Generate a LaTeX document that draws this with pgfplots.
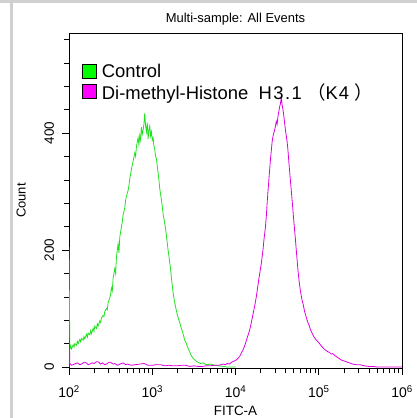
\documentclass[border=0pt]{standalone}
\usepackage{pgfplots}
\pgfplotsset{compat=1.18}
\usepackage{fontspec}
\setmainfont{Liberation Sans}
\newfontfamily\cjk{Noto Sans CJK SC}
\definecolor{ctrl}{HTML}{22E022}
\definecolor{mag}{HTML}{DD00DD}
\definecolor{lgreen}{HTML}{00FF00}
\definecolor{lmag}{HTML}{FF00FF}
\definecolor{frame}{HTML}{D0D0D0}
\begin{document}
\begin{tikzpicture}[x=1bp,y=1bp]
\useasboundingbox (0,0) rectangle (417,418);
\fill[frame] (0,415) rectangle (417,418);
\fill[frame] (10,0) rectangle (12.5,415);
\begin{axis}[
  scale only axis, width=333bp, height=335bp,
  at={(69bp,50bp)}, anchor=south west,
  xmin=2, xmax=6, ymin=-1.7, ymax=571,
  /pgf/number format/assume math mode=true,
  axis line style={black, line width=0.9pt},
  tick style={black, line width=0.7pt},
  tick align=outside,
  xtick pos=bottom, ytick pos=left,
  xtick={2,3,4,5,6},
  xticklabels={10\textsuperscript{2},10\textsuperscript{3},10\textsuperscript{4},10\textsuperscript{5},10\textsuperscript{6}},
  minor xtick={2.301,2.477,2.602,2.699,2.778,2.845,2.903,2.954,
    3.301,3.477,3.602,3.699,3.778,3.845,3.903,3.954,
    4.301,4.477,4.602,4.699,4.778,4.845,4.903,4.954,
    5.301,5.477,5.602,5.699,5.778,5.845,5.903,5.954},
  ytick={0,200,400},
  minor ytick={40,80,120,160,240,280,320,360,440,480,520,560},
  major tick length=7bp, minor tick length=5bp,
  every minor tick/.append style={line width=0.6pt},
  yticklabel style={rotate=90, anchor=south, font=\fontsize{13.5}{15}\selectfont},
  yticklabel shift=4.5bp,
  xticklabel style={font=\fontsize{14}{16}\selectfont},
  xticklabel shift=7bp,
  ylabel={Count}, ylabel style={font=\fontsize{13}{15}\selectfont, at={(-0.144,0.5)}, anchor=center},
  xlabel={FITC-A}, xlabel style={font=\fontsize{13.5}{15}\selectfont, at={(0.5,-0.127)}, anchor=center},
  title={Multi-sample: All Events},
  title style={font=\fontsize{13}{15}\selectfont, at={(0.5,1)}, anchor=center, yshift=8bp},
  legend style={draw=none, fill=none, at={(0.039,0.912)}, anchor=north west,
    font=\fontsize{18.5}{20}\selectfont, row sep=1.5bp, inner sep=0pt,
    legend cell align=left, nodes={inner xsep=5bp, inner ysep=1.5bp}},
  clip=true,
]
\addplot[ctrl, line width=0.8pt,
  legend image code/.code={\draw[fill=lgreen, draw=black, line width=0.7pt] (0bp,-6.5bp) rectangle (14bp,7.5bp);}]
coordinates {
(2.00,0)(2.00,205)(2.01,30)(2.02,36)(2.03,31)(2.05,38)(2.06,34)(2.07,40)(2.09,37)(2.10,44)(2.11,40)(2.13,47)
(2.14,43)(2.15,49)(2.17,46)(2.18,52)(2.19,48)(2.21,56)(2.22,51)(2.23,58)(2.25,55)(2.26,62)(2.27,57)(2.29,66)
(2.30,61)(2.31,70)(2.33,66)(2.34,74)(2.35,70)(2.37,79)(2.38,76)(2.39,84)(2.41,88)(2.42,86)(2.43,95)(2.45,100)
(2.46,98)(2.47,110)(2.49,118)(2.50,125)(2.51,135)(2.52,130)(2.53,152)(2.55,168)(2.56,160)(2.57,188)(2.58,200)(2.59,210)
(2.60,195)(2.61,222)(2.63,240)(2.64,248)(2.65,260)(2.67,272)(2.68,285)(2.69,292)(2.71,302)(2.72,310)(2.73,322)(2.75,338)
(2.76,345)(2.77,352)(2.79,366)(2.80,360)(2.81,376)(2.82,385)(2.83,392)(2.84,380)(2.85,396)(2.86,388)(2.87,410)(2.88,398)
(2.89,405)(2.90,415)(2.91,434)(2.92,412)(2.93,402)(2.94,418)(2.95,390)(2.96,405)(2.97,412)(2.98,395)(2.99,402)(3.00,388)
(3.01,392)(3.02,378)(3.03,372)(3.04,360)(3.05,356)(3.07,332)(3.08,320)(3.09,305)(3.11,286)(3.12,275)(3.13,262)(3.15,246)
(3.16,236)(3.17,225)(3.19,200)(3.20,190)(3.21,178)(3.22,168)(3.23,152)(3.25,128)(3.26,118)(3.27,110)(3.29,96)(3.30,90)
(3.31,85)(3.33,76)(3.35,66)(3.37,57)(3.39,46)(3.41,40)(3.43,32)(3.45,26)(3.47,19)(3.49,15)(3.52,11)(3.55,8)
(3.58,6)(3.61,7)(3.65,4)(3.70,5)(3.75,3)(3.80,2)(3.85,1)(3.90,0)(4.00,0)
};
\addlegendentry{Control}
\addplot[mag, line width=0.8pt,
  legend image code/.code={\draw[fill=lmag, draw=black, line width=0.7pt] (0bp,-6.5bp) rectangle (14bp,7.5bp);}]
coordinates {
(2.00,0)(2.00,80)(2.01,6)(2.03,3)(2.05,4)(2.08,6)(2.10,7)(2.13,4)(2.15,5)(2.18,8)(2.20,8)(2.23,4)(2.25,5)
(2.28,7)(2.30,6)(2.33,9)(2.35,9)(2.38,5)(2.40,7)(2.43,4)(2.45,5)(2.48,8)(2.50,8)(2.53,5)(2.55,6)(2.58,3)
(2.60,4)(2.63,6)(2.65,7)(2.68,4)(2.70,5)(2.75,3)(2.80,4)(2.85,5)(2.90,6)(2.95,3)(3.00,3)(3.05,4)(3.10,4)
(3.15,2)(3.20,3)(3.25,2)(3.30,2)(3.35,3)(3.40,3)(3.45,1)(3.50,2)(3.55,1)(3.60,1)(3.65,2)(3.70,2)(3.75,3)
(3.80,3)(3.85,5)(3.88,4)(3.90,6)(3.93,5)(3.95,8)(3.98,10)(4.01,12)(4.03,15)(4.05,18)(4.07,24)(4.09,29)
(4.11,36)(4.13,45)(4.15,54)(4.17,63)(4.19,76)(4.21,90)(4.23,104)(4.25,120)(4.27,140)(4.28,150)(4.30,168)(4.31,177)
(4.33,200)(4.34,215)(4.36,240)(4.37,257)(4.38,280)(4.39,300)(4.40,318)(4.41,337)(4.42,355)(4.43,370)(4.44,385)(4.45,394)
(4.46,400)(4.47,405)(4.48,412)(4.49,420)(4.50,415)(4.51,428)(4.52,436)(4.53,445)(4.54,450)(4.55,462)(4.56,448)(4.57,440)
(4.58,430)(4.59,417)(4.60,405)(4.61,395)(4.62,385)(4.63,371)(4.64,352)(4.65,335)(4.66,318)(4.67,302)(4.68,285)(4.69,268)
(4.70,250)(4.71,234)(4.72,218)(4.73,200)(4.74,183)(4.75,166)(4.76,152)(4.77,140)(4.78,130)(4.79,122)(4.80,114)(4.81,109)
(4.83,95)(4.85,85)(4.86,80)(4.87,76)(4.89,69)(4.90,64)(4.92,58)(4.94,52)(4.95,50)(4.97,46)(4.98,45)(5.01,40)
(5.03,36)(5.05,33)(5.07,30)(5.09,28)(5.11,26)(5.13,25)(5.15,22)(5.17,23)(5.19,20)(5.21,18)(5.23,16)(5.25,14)
(5.27,12)(5.29,11)(5.31,10)(5.33,9)(5.35,8)(5.37,7)(5.39,6)(5.41,5)(5.45,4)(5.49,4)(5.52,3)(5.55,2)
(5.60,1)(5.65,1)(5.70,0)(6.00,0)
};
\addlegendentry{Di-methyl-Histone\ \ H\kern1.5bp3\kern1.5bp.\kern1.5bp1 {\cjk （}K\kern1bp4\kern5bp{\cjk ）}}
\end{axis}
\end{tikzpicture}
\end{document}
